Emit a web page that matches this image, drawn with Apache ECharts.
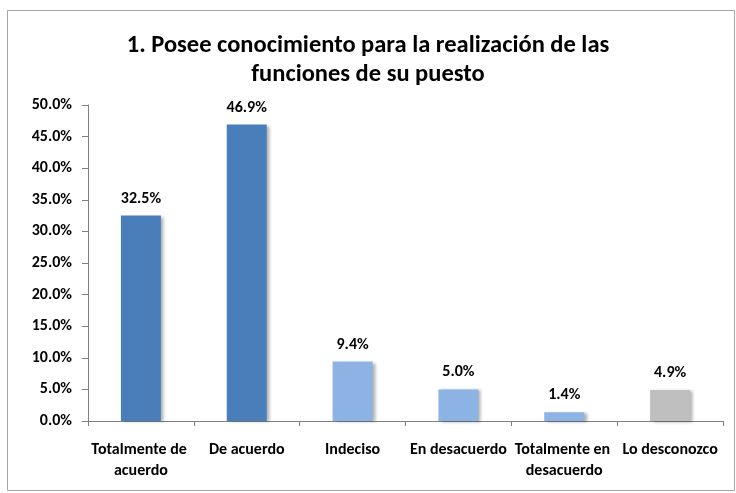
<!DOCTYPE html>
<html><head><meta charset="utf-8">
<script src="https://cdn.jsdelivr.net/npm/echarts@6/dist/echarts.min.js"></script>
<style>html,body{margin:0;padding:0;background:#fff}#c{width:736px;height:493px}</style>
</head><body><div id="c"></div>
<script>
const categories = ['Totalmente de acuerdo', 'De acuerdo', 'Indeciso', 'En desacuerdo', 'Totalmente en desacuerdo', 'Lo desconozco'];
const values = [32.5, 46.9, 9.4, 5.0, 1.4, 4.9];
const barColors = ['#4a7ebb', '#4a7ebb', '#8cb3e3', '#8cb3e3', '#8cb3e3', '#bfbfbf'];
const titleLines = ['1. Posee conocimiento para la realización de las', 'funciones de su puesto'];

const FONT = "Carlito, 'Liberation Sans Narrow', 'Open Sans', sans-serif";
const chart = echarts.init(document.getElementById('c'));
chart.setOption({
  animation: false,
  textStyle: { fontFamily: FONT },
  graphic: [{
    type: 'rect', shape: { x: 7.5, y: 10.5, width: 727, height: 480 },
    style: { fill: 'none', stroke: '#a6a6a6', lineWidth: 1 }, z: -1
  }],
  title: {
    text: titleLines.join('\n'), left: 'center', top: 26,
    textStyle: { fontFamily: FONT, fontSize: 24.5, fontWeight: 'bold', color: '#000', lineHeight: 29 }
  },
  grid: { left: 88, right: 13, top: 105, bottom: 72, containLabel: false },
  xAxis: {
    type: 'category', data: categories,
    axisLine: { lineStyle: { color: '#808080' } },
    axisTick: { show: true, length: 5, lineStyle: { color: '#808080' } },
    axisLabel: {
      interval: 0, color: '#000', fontSize: 16, fontWeight: 'bold', fontFamily: FONT,
      margin: 18, width: 112, overflow: 'break', lineHeight: 21
    }
  },
  yAxis: {
    type: 'value', min: 0, max: 50, interval: 5,
    axisLine: { show: true, lineStyle: { color: '#808080' } },
    axisTick: { show: true, length: 6, lineStyle: { color: '#808080' } },
    splitLine: { show: false },
    axisLabel: {
      color: '#000', fontSize: 16, fontWeight: 'bold', fontFamily: FONT, margin: 16,
      formatter: v => v.toFixed(1) + '%'
    }
  },
  series: [{
    type: 'bar', barWidth: 40,
    data: values.map((v, i) => ({ value: v, itemStyle: { color: barColors[i] } })),
    itemStyle: { shadowColor: 'rgba(0,0,0,0.3)', shadowBlur: 3, shadowOffsetX: 3, shadowOffsetY: 1 },
    label: {
      show: true, position: 'top', distance: 9, color: '#000', fontSize: 16, fontWeight: 'bold',
      fontFamily: FONT, formatter: p => p.value.toFixed(1) + '%'
    }
  }]
});
</script></body></html>
